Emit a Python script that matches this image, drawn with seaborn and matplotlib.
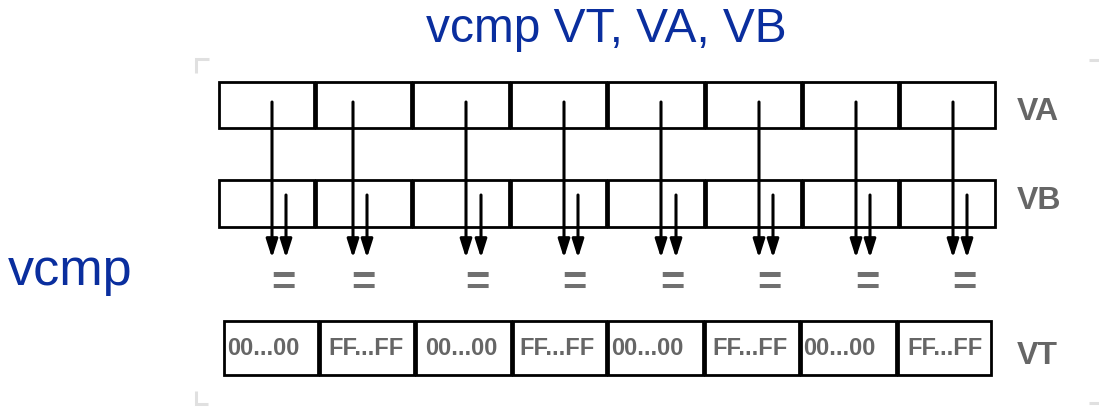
import matplotlib
matplotlib.use("Agg")
import matplotlib.pyplot as plt
import matplotlib.patches as mpatches
import seaborn as sns

# ---- data ----
lanes = list(range(8))
register_names = ["VA", "VB", "VT"]
vt_values = ["00...00", "FF...FF", "00...00", "FF...FF",
             "00...00", "FF...FF", "00...00", "FF...FF"]
title_text = "vcmp VT, VA, VB"
side_text = "vcmp"

# ---- layout (pixel coordinates) ----
W, H = 1099, 409
row_va = (82, 128)
row_vb = (180, 227)
row_vt = (321, 375)
ab_edges = [218, 315, 412, 510, 607, 705, 802, 899, 996]
vt_edges = [223, 319, 415, 512, 607, 704, 800, 897, 992]
va_arrow_x = [272, 353, 466, 564, 661, 759, 856, 953]
vb_arrow_x = [286, 367, 481, 578, 676, 773, 870, 967]
eq_x = [283, 363, 477, 574, 672, 769, 867, 964]
vt_text_x = [227, 328, 425, 519, 611, 712, 803, 907]
va_arrow_y0, vb_arrow_y0, arrow_tip = 102, 195, 258
label_x = 1017
label_base = [120, 209, 364]

BLUE = "#0a2e9e"
GRAY = "#666666"
EQGRAY = "#707070"
CORNER = "#e0e0e0"

sns.set_theme(style="white")
plt.rcParams["font.family"] = ["Liberation Sans", "DejaVu Sans"]

fig = plt.figure(figsize=(W / 100, H / 100), dpi=100)
ax = fig.add_axes([0, 0, 1, 1])
ax.set_xlim(0, W)
ax.set_ylim(H, 0)
ax.axis("off")

# corner marks
for xs, ys in [([209, 196, 196], [59, 59, 73]),
               ([196, 196, 208], [391, 404, 404]),
               ([1089, 1099], [60, 60]),
               ([1089, 1099], [403, 403])]:
    ax.plot(xs, ys, color=CORNER, lw=2.2, solid_capstyle="butt",
            solid_joinstyle="miter")

def draw_row(edges, ytop, ybot):
    for i in lanes:
        x0, x1 = edges[i] + 1, edges[i + 1] - 1
        ax.add_patch(mpatches.Rectangle((x0, ytop), x1 - x0, ybot - ytop,
                                        fill=False, ec="black", lw=2.0))

draw_row(ab_edges, *row_va)
draw_row(ab_edges, *row_vb)
draw_row(vt_edges, *row_vt)

# arrows
aprops = dict(arrowstyle="-|>,head_length=1.1,head_width=0.35",
              color="black", lw=2.2, shrinkA=0, shrinkB=0,
              mutation_scale=10)
for i in lanes:
    ax.annotate("", xy=(va_arrow_x[i], arrow_tip),
                xytext=(va_arrow_x[i], va_arrow_y0), arrowprops=aprops)
    ax.annotate("", xy=(vb_arrow_x[i], arrow_tip),
                xytext=(vb_arrow_x[i], vb_arrow_y0), arrowprops=aprops)
    ax.text(eq_x[i], 295, "=", ha="center", va="baseline",
            fontsize=30, fontweight="bold", color=EQGRAY)
    ax.text(vt_text_x[i], 355, vt_values[i], ha="left", va="baseline",
            fontsize=17, fontweight="bold", color=GRAY)

for name, yb in zip(register_names, label_base):
    ax.text(label_x, yb, name, ha="left", va="baseline",
            fontsize=23, fontweight="bold", color=GRAY)

ax.text(606, 42, title_text, ha="center", va="baseline",
        fontsize=34.5, color=BLUE)
ax.text(8, 285, side_text, ha="left", va="baseline",
        fontsize=37.5, color=BLUE)

fig.savefig("out.png", dpi=100)
